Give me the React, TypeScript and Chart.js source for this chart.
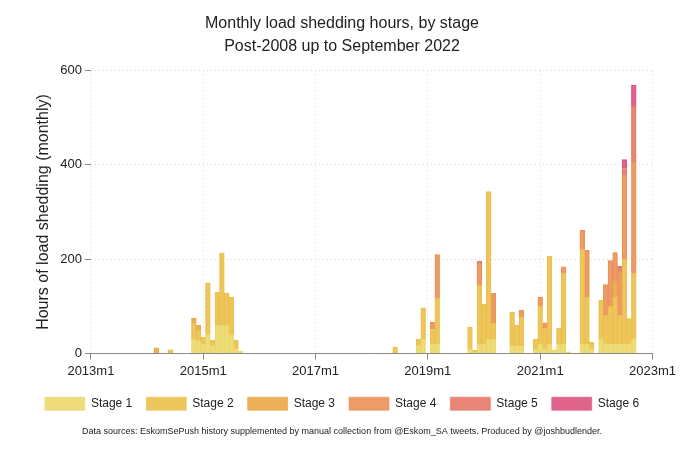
import React, { useEffect, useRef } from "react";
import { Chart, registerables } from "chart.js";
Chart.register(...registerables);

// month index from 2013m1 = 0
const activeMonths = [14,17,22,23,24,25,26,27,28,29,30,31,32,65,70,71,73,74,81,82,83,84,85,86,90,91,92,95,96,97,98,99,100,101,102,105,106,107,109,110,111,112,113,114,115,116];
const stage1 = [0,0,30,25,20,40,15,60,60,60,40,10,5,0,15,30,20,20,10,3,20,20,30,30,15,15,15,10,20,10,20,8,20,20,4,20,20,10,30,20,20,20,20,20,20,30];
const stage2 = [0,8,35,25,15,110,13,70,153,68,80,18,0,14,15,67,31,97,46,4,125,85,313,34,73,45,62,21,80,43,186,0,34,150,0,200,100,14,83,60,80,100,60,180,54,140];
const stage3 = [12,0,10,10,0,0,0,0,0,0,0,0,0,0,0,0,0,0,0,0,0,0,0,0,0,0,0,0,0,0,0,0,0,0,0,0,0,0,0,0,0,30,0,0,0,0];
const stage4 = [0,0,0,0,0,0,0,0,0,0,0,0,0,0,0,0,15,93,0,0,45,0,0,64,0,0,15,0,20,12,0,0,0,14,0,41,99,0,0,66,97,64,95,178,0,236];
const stage5 = [0,0,0,0,0,0,0,0,0,0,0,0,0,0,0,0,0,0,0,0,6,0,0,0,0,0,0,0,0,0,0,0,0,0,0,0,0,0,0,0,0,0,10,14,0,118];
const stage6 = [0,0,0,0,0,0,0,0,0,0,0,0,0,0,0,0,0,0,0,0,0,0,0,0,0,0,0,0,0,0,0,0,0,0,0,0,0,0,0,0,0,0,0,19,0,45];
const stageNames = ["Stage 1","Stage 2","Stage 3","Stage 4","Stage 5","Stage 6"];
const stageColors = ["#ebd86a","#ebc04d","#eba646","#eb9158","#e67868","#dc527e"];
const tickMonths = [0,24,48,72,96,120];
const tickLabels = ["2013m1","2015m1","2017m1","2019m1","2021m1","2023m1"];

export default function App() {
  const ref = useRef<HTMLCanvasElement>(null);
  useEffect(() => {
    document.body.style.margin = "0";
    const stages = [stage1, stage2, stage3, stage4, stage5, stage6];
    const font = "'Liberation Sans', Arial, sans-serif";
    const chart = new Chart(ref.current!, {
      type: "bar",
      data: {
        datasets: stages.map((s, i) => ({
          label: stageNames[i],
          data: activeMonths.map((m, j) => ({ x: m, y: s[j] })),
          backgroundColor: stageColors[i] + "e6",
          borderColor: stageColors[i],
          borderWidth: 0.6,
          barThickness: 4.7,
        })),
      },
      options: {
        animation: false,
        responsive: false,
        layout: { padding: { left: 30, right: 26, top: 0, bottom: 0 } },
        plugins: {
          title: {
            display: true,
            text: ["Monthly load shedding hours, by stage", "Post-2008 up to September 2022"],
            color: "#222",
            font: { family: font, size: 16, weight: "normal", lineHeight: 1.45 },
            padding: { top: 12, bottom: 12 },
          },
          legend: {
            position: "bottom",
            labels: { boxWidth: 40, boxHeight: 13, color: "#222", font: { family: font, size: 12 }, padding: 14 },
          },
          subtitle: {
            display: true,
            position: "bottom",
            text: "Data sources: EskomSePush history supplemented by manual collection from @Eskom_SA tweets. Produced by @joshbudlender.",
            color: "#222",
            font: { family: font, size: 9 },
            padding: { top: 6, bottom: 16 },
          },
          tooltip: { enabled: false },
        },
        scales: {
          x: {
            type: "linear",
            stacked: true,
            offset: false,
            min: 0,
            max: 120,
            afterBuildTicks: (s: any) => { s.ticks = tickMonths.map((v) => ({ value: v })); },
            ticks: {
              color: "#222",
              font: { family: font, size: 13 },
              callback: (v: any) => tickLabels[tickMonths.indexOf(v)] ?? "",
              maxRotation: 0,
              padding: 4,
            },
            grid: { color: "#d8d8d8", tickColor: "#888", tickLength: 6, offset: false },
            border: { color: "#888", dash: [1, 3] },
          },
          y: {
            stacked: true,
            min: 0,
            max: 600,
            ticks: { stepSize: 200, color: "#222", font: { family: font, size: 13 } },
            grid: { color: "#d8d8d8", tickColor: "#888", tickLength: 6 },
            border: { display: false, dash: [1, 3] },
            title: { display: true, text: "Hours of load shedding (monthly)", color: "#222", font: { family: font, size: 16 } },
          },
        },
      },
    } as any);
    return () => chart.destroy();
  }, []);
  return <canvas ref={ref} width={680} height={453} style={{ display: "block" }} />;
}
